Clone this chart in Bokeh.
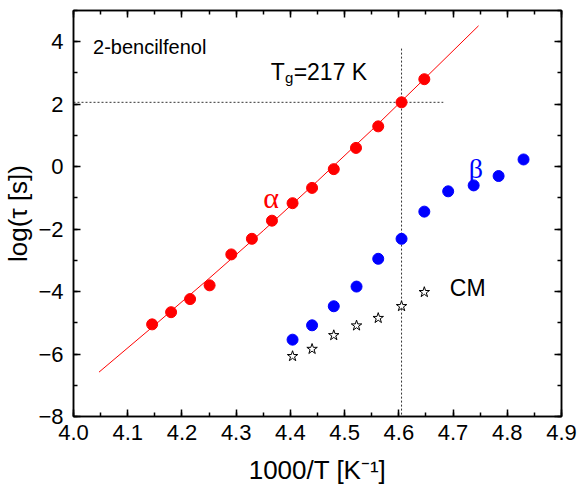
from bokeh.plotting import figure
from bokeh.models import (LinearAxis, SingleIntervalTicker, Range1d, Label,
                          NumeralTickFormatter, CustomJSTickFormatter)
from bokeh.embed import file_html
from bokeh.resources import INLINE

# ---- data ----
alpha_x = [4.145, 4.180, 4.215, 4.251, 4.291, 4.329, 4.366, 4.404, 4.440, 4.480, 4.521, 4.562, 4.605, 4.647]
alpha_y = [-5.05, -4.66, -4.24, -3.80, -2.81, -2.31, -1.73, -1.17, -0.68, -0.08, 0.60, 1.29, 2.06, 2.80]
beta_x = [4.404, 4.440, 4.480, 4.522, 4.562, 4.605, 4.647, 4.691, 4.738, 4.784, 4.830]
beta_y = [-5.54, -5.08, -4.47, -3.84, -2.95, -2.31, -1.44, -0.79, -0.60, -0.30, 0.23]
cm_x = [4.404, 4.440, 4.480, 4.522, 4.562, 4.605, 4.647]
cm_y = [-6.07, -5.84, -5.40, -5.09, -4.85, -4.47, -4.02]
fit_x = [4.047, 4.15, 4.25, 4.35, 4.45, 4.55, 4.65, 4.747]
fit_y = [-6.58, -5.07, -3.58, -2.05, -0.46, 1.17, 2.86, 4.51]
tg_x = 4.605        # 1000/Tg
tg_logtau = 2.06    # log(tau) at Tg

FONT = "Liberation Sans"

p = figure(width=577, height=495, output_backend="svg", toolbar_location=None,
           x_range=Range1d(4.0, 4.9), y_range=Range1d(-8, 5),
           min_border_left=72, min_border_right=16, min_border_top=10, min_border_bottom=79)
p.background_fill_color = "white"
p.border_fill_color = "white"
p.outline_line_color = "black"
p.outline_line_width = 1.5
p.xgrid.visible = False
p.ygrid.visible = False

xt = SingleIntervalTicker(interval=0.1, num_minor_ticks=2)
yt = SingleIntervalTicker(interval=2, num_minor_ticks=2)

def style(ax, labels=True):
    ax.axis_line_color = "black"
    ax.axis_line_width = 1.5
    ax.major_tick_in = 7
    ax.major_tick_out = 0
    ax.minor_tick_in = 4
    ax.minor_tick_out = 0
    ax.major_tick_line_width = 1.5
    ax.minor_tick_line_width = 1.5
    if labels:
        ax.major_label_text_font = FONT
        ax.major_label_text_font_size = "22px"
        ax.major_label_text_color = "black"
        ax.axis_label_text_font = FONT
        ax.axis_label_text_font_size = "26px"
        ax.axis_label_text_font_style = "normal"
        ax.axis_label_text_color = "black"
    else:
        ax.formatter = CustomJSTickFormatter(code="return '';")
        ax.major_label_standoff = 0

p.xaxis.ticker = xt
p.yaxis.ticker = yt
p.xaxis.formatter = NumeralTickFormatter(format="0.0")
style(p.xaxis[0])
style(p.yaxis[0])
p.xaxis.major_label_standoff = 8
p.yaxis.major_label_standoff = 10
p.xaxis.axis_label = "1000/T [K\u207b\u00b9]"
p.yaxis.axis_label = "log(\u03c4 [s])"
p.xaxis.axis_label_standoff = 12
p.yaxis.axis_label_standoff = 2

top = LinearAxis(ticker=xt)
right = LinearAxis(ticker=yt)
style(top, labels=False)
style(right, labels=False)
p.add_layout(top, "above")
p.add_layout(right, "right")

# reference lines at Tg
p.line([tg_x, tg_x], [3.78, -8], line_color="#333333", line_width=1, line_dash="2 2")
p.line([4.0, 4.682], [tg_logtau, tg_logtau], line_color="#333333", line_width=1, line_dash="2 2")

# VFT fit
p.line(fit_x, fit_y, line_color="#ff0000", line_width=1)

p.scatter(alpha_x, alpha_y, size=11, marker="circle", fill_color="#ff0000", line_color="#ff0000")
p.scatter(beta_x, beta_y, size=11, marker="circle", fill_color="#0000ff", line_color="#0000ff")
p.scatter(cm_x, cm_y, size=11, marker="star", fill_color="white", line_color="black", line_width=1)

# annotations
p.add_layout(Label(x=4.036, y=3.83, text="2-bencilfenol", text_font=FONT, text_font_size="20px",
                   text_color="black", text_baseline="alphabetic"))
p.add_layout(Label(x=4.364, y=3.03, text="T", text_font=FONT, text_font_size="23px",
                   text_color="black", text_baseline="alphabetic"))
p.add_layout(Label(x=4.390, y=2.84, text="g", text_font=FONT, text_font_size="15px",
                   text_color="black", text_baseline="alphabetic"))
p.add_layout(Label(x=4.406, y=3.03, text="=217 K", text_font=FONT, text_font_size="23px",
                   text_color="black", text_baseline="alphabetic"))
p.add_layout(Label(x=4.350, y=-0.99, text="\u03b1", text_font="Liberation Serif", text_font_size="30px",
                   text_color="#ff0000", text_baseline="alphabetic"))
p.add_layout(Label(x=4.729, y=-0.05, text="\u03b2", text_font="Liberation Serif", text_font_size="28px",
                   text_color="#0000ff", text_baseline="alphabetic"))
p.add_layout(Label(x=4.694, y=-3.89, text="CM", text_font=FONT, text_font_size="23px",
                   text_color="black", text_baseline="alphabetic"))

open("out.html", "w").write(file_html(p, INLINE))
